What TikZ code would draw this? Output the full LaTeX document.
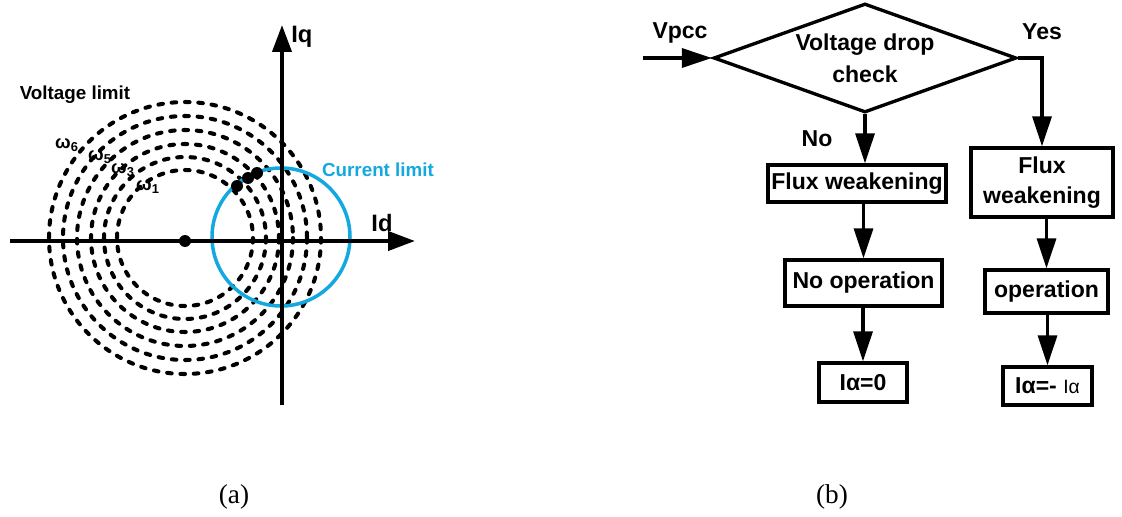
\documentclass[tikz,border=0pt]{standalone}
\usepackage{fontspec}
\setmainfont{Liberation Sans}
\newfontfamily\capfont{Liberation Serif}
\usetikzlibrary{arrows.meta,shapes.geometric}
\definecolor{curBlue}{HTML}{14A8E0}
\tikzset{
    fbox/.style={draw, line width=1.9pt, inner sep=0pt, align=center, font=\bfseries\fontsize{13.1}{17}\selectfont},
    fdiam/.style={diamond, draw, line width=1.9pt, inner sep=0pt, aspect=2.78, minimum width=6.06cm, minimum height=2.18cm, align=center, font=\bfseries\fontsize{13.1}{18}\selectfont},
    fline/.style={-{Triangle[length=6mm, width=3.8mm]}, line width=1.9pt},
    axline/.style={-{Triangle[length=5.4mm, width=3.8mm]}, line width=2.3pt},
    vcirc/.style={dash pattern=on 2.6pt off 5pt, line cap=round, line width=2.3pt},
    lbl/.style={font=\bfseries\fontsize{13.1}{16}\selectfont},
    axlbl/.style={font=\bfseries\fontsize{13.5}{16}\selectfont, inner sep=0pt},
    slbl/.style={font=\bfseries\fontsize{10.7}{13}\selectfont},
    wlbl/.style={font=\bfseries\fontsize{10.5}{12}\selectfont, inner sep=0pt},
    subcap/.style={font=\capfont\fontsize{15.5}{18}\selectfont}
}
\begin{document}
\begin{tikzpicture}[x=0.02cm, y=-0.02cm]
    \useasboundingbox (0,0) rectangle (1122,517);
    % (a) voltage and current limits
    \foreach \r in {136,122,108,94,81,68}{
        \draw[vcirc] (185,238) circle[radius=\r];
    }
    \draw[line width=2pt, curBlue] (281,237) circle[radius=69];
    \draw[axline] (10,241) -- (415,241);
    \draw[axline] (282,405) -- (282,25);
    \foreach \x/\y in {185/241,237/186,248/178,257/173}{
        \fill (\x,\y) circle[radius=6];
    }
    \node[slbl] (vlim) at (75,95) {Voltage limit};
    \node[slbl, text=curBlue] (clim) at (378,170) {Current limit};
    \node[axlbl, anchor=west] (iq) at (291,37) {Iq};
    \node[axlbl] (id) at (382,223) {Id};
    \node[wlbl] (w6) at (67,145) {ω\textsubscript{6}};
    \node[wlbl] (w5) at (100,157) {ω\textsubscript{5}};
    \node[wlbl] (w3) at (123,170) {ω\textsubscript{3}};
    \node[wlbl] (w1) at (148,187) {ω\textsubscript{1}};
    \node[subcap] (capa) at (234,497) {(a)};

    % (b) flowchart
    \coordinate (vin) at (643,58);
    \node[fdiam] (chk) at (865,58) {Voltage drop\\check};
    \node[fbox, minimum width=3.56cm, minimum height=0.74cm] (fw1) at (857,183.5) {Flux weakening};
    \node[fbox, minimum width=2.84cm, minimum height=1.38cm] (fw2) at (1042,182.5) {Flux\\weakening};
    \node[fbox, minimum width=3.14cm, minimum height=0.92cm] (nop) at (863.5,283) {No operation};
    \node[fbox, minimum width=2.46cm, minimum height=0.86cm] (op) at (1046.5,291.5) {operation};
    \node[fbox, minimum width=1.76cm, minimum height=0.78cm] (ia0) at (863,382.5) {Iα=0};
    \node[fbox, minimum width=1.78cm, minimum height=0.76cm] (ia1) at (1047.5,386) {Iα=- {\mdseries\fontsize{11}{13}\selectfont Iα}};
    \node[lbl] (vpcc) at (680,33) {Vpcc};
    \node[lbl] (yes) at (1042,32) {Yes};
    \node[lbl] (no) at (817,139) {No};

    \draw[fline] (vin) -- (chk.west);
    \draw[fline] (chk.south) -- (chk.south |- fw1.north);
    \draw[fline] (chk.east) -| (fw2.north);
    \draw[fline] (nop.north |- fw1.south) -- (nop.north);
    \draw[fline] (ia0.north |- nop.south) -- (ia0.north);
    \draw[fline] (op.north |- fw2.south) -- (op.north);
    \draw[fline] (ia1.north |- op.south) -- (ia1.north);
    \node[subcap] (capb) at (832,497) {(b)};
\end{tikzpicture}
\end{document}
